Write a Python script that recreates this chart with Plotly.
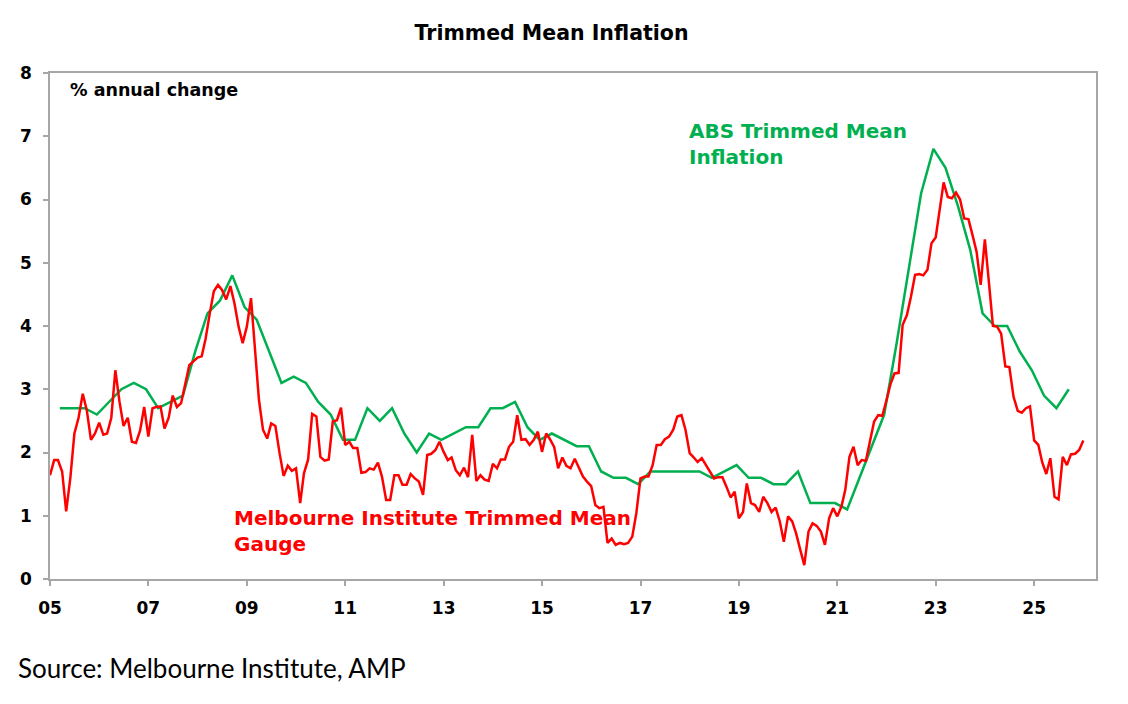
import pandas as pd
import plotly.graph_objects as go

# Melbourne Institute trimmed mean gauge, monthly, Jan 2005 - Jan 2026 (% y/y)
mi_gauge = [
    1.64, 1.88, 1.88, 1.70, 1.07, 1.60, 2.30, 2.55, 2.93, 2.67, 2.20, 2.30,  # 2005
    2.47, 2.28, 2.30, 2.55, 3.30, 2.80, 2.42, 2.55, 2.17, 2.15, 2.35, 2.72,  # 2006
    2.25, 2.70, 2.72, 2.73, 2.38, 2.55, 2.90, 2.72, 2.78, 3.05, 3.38, 3.44,  # 2007
    3.50, 3.52, 3.80, 4.20, 4.55, 4.65, 4.57, 4.42, 4.63, 4.36, 3.99, 3.73,  # 2008
    3.99, 4.44, 3.60, 2.83, 2.36, 2.22, 2.46, 2.42, 1.99, 1.63, 1.79, 1.71,  # 2009
    1.75, 1.20, 1.67, 1.89, 2.61, 2.57, 1.93, 1.87, 1.89, 2.49, 2.51, 2.71,  # 2010
    2.12, 2.17, 2.07, 2.07, 1.68, 1.69, 1.75, 1.73, 1.84, 1.62, 1.25, 1.25,  # 2011
    1.64, 1.64, 1.49, 1.49, 1.66, 1.59, 1.54, 1.33, 1.96, 1.98, 2.04, 2.17,  # 2012
    2.01, 1.88, 1.92, 1.72, 1.64, 1.76, 1.61, 2.28, 1.55, 1.64, 1.57, 1.55,  # 2013
    1.82, 1.75, 1.89, 1.89, 2.09, 2.17, 2.59, 2.20, 2.21, 2.12, 2.20, 2.33,  # 2014
    2.01, 2.30, 2.21, 2.09, 1.75, 1.92, 1.79, 1.75, 1.90, 1.77, 1.62, 1.54,  # 2015
    1.47, 1.17, 1.12, 1.14, 0.57, 0.64, 0.54, 0.57, 0.55, 0.57, 0.67, 1.04,  # 2016
    1.59, 1.62, 1.62, 1.80, 2.12, 2.12, 2.21, 2.25, 2.36, 2.57, 2.59, 2.36,  # 2017
    1.99, 1.92, 1.85, 1.91, 1.80, 1.70, 1.59, 1.61, 1.61, 1.46, 1.29, 1.38,  # 2018
    0.96, 1.06, 1.51, 1.20, 1.17, 1.06, 1.30, 1.20, 1.06, 1.13, 0.91, 0.59,  # 2019
    0.99, 0.91, 0.72, 0.46, 0.22, 0.75, 0.88, 0.84, 0.75, 0.54, 0.96, 1.12,  # 2020
    0.99, 1.15, 1.41, 1.93, 2.09, 1.80, 1.88, 1.87, 2.20, 2.49, 2.59, 2.58,  # 2021
    2.83, 3.09, 3.25, 3.26, 4.02, 4.17, 4.46, 4.81, 4.82, 4.80, 4.89, 5.31,  # 2022
    5.40, 5.89, 6.27, 6.04, 6.02, 6.11, 6.00, 5.70, 5.69, 5.44, 5.17, 4.65,  # 2023
    5.37, 4.67, 4.00, 3.99, 3.88, 3.36, 3.35, 2.88, 2.66, 2.63, 2.70, 2.73,  # 2024
    2.19, 2.12, 1.85, 1.66, 1.91, 1.30, 1.26, 1.93, 1.80, 1.97, 1.98, 2.04,  # 2025
    2.19,                                                                    # 2026
]

# ABS trimmed mean, quarterly, Mar 2005 - Sep 2025 (% y/y)
abs_trimmed_mean = [
    2.7, 2.7, 2.7, 2.6,  # 2005
    2.8, 3.0, 3.1, 3.0,  # 2006
    2.7, 2.8, 2.9, 3.6,  # 2007
    4.2, 4.4, 4.8, 4.3,  # 2008
    4.1, 3.6, 3.1, 3.2,  # 2009
    3.1, 2.8, 2.6, 2.2,  # 2010
    2.2, 2.7, 2.5, 2.7,  # 2011
    2.3, 2.0, 2.3, 2.2,  # 2012
    2.3, 2.4, 2.4, 2.7,  # 2013
    2.7, 2.8, 2.4, 2.2,  # 2014
    2.3, 2.2, 2.1, 2.1,  # 2015
    1.7, 1.6, 1.6, 1.5,  # 2016
    1.7, 1.7, 1.7, 1.7,  # 2017
    1.7, 1.6, 1.7, 1.8,  # 2018
    1.6, 1.6, 1.5, 1.5,  # 2019
    1.7, 1.2, 1.2, 1.2,  # 2020
    1.1, 1.6, 2.1, 2.6,  # 2021
    3.7, 4.9, 6.1, 6.8,  # 2022
    6.5, 5.9, 5.2, 4.2,  # 2023
    4.0, 4.0, 3.6, 3.3,  # 2024
    2.9, 2.7, 3.0,       # 2025
]

mi_dates = pd.date_range("2005-01-01", periods=len(mi_gauge), freq="MS")
abs_dates = pd.date_range("2005-03-01", periods=len(abs_trimmed_mean), freq="3MS") + pd.Timedelta(days=14)

tick_years = [2005, 2007, 2009, 2011, 2013, 2015, 2017, 2019, 2021, 2023, 2025]
tick_labels = ["05", "07", "09", "11", "13", "15", "17", "19", "21", "23", "25"]

GREEN = "#00B050"
RED = "#FF0000"
AXIS_GREY = "#A6A6A6"
FONT = "DejaVu Sans"

fig = go.Figure()
fig.add_trace(go.Scatter(x=abs_dates, y=abs_trimmed_mean, mode="lines",
                         line=dict(color=GREEN, width=2.5), name="ABS Trimmed Mean Inflation"))
fig.add_trace(go.Scatter(x=mi_dates, y=mi_gauge, mode="lines",
                         line=dict(color=RED, width=2.5), name="Melbourne Institute Trimmed Mean Gauge"))

axis_style = dict(showline=True, linecolor=AXIS_GREY, linewidth=1.5, mirror=True,
                  ticks="outside", ticklen=5, tickcolor=AXIS_GREY, tickwidth=1.5,
                  showgrid=False, zeroline=False, ticklabelstandoff=8,
                  tickfont=dict(family=FONT, size=17, color="black", weight="bold"))

# page has an 8px body margin, so the figure is a bit smaller than the window
fig.update_layout(
    width=1112, height=688,
    margin=dict(l=40, r=24, t=65, b=117),
    plot_bgcolor="white", paper_bgcolor="white",
    showlegend=False,
    title=dict(text="Trimmed Mean Inflation", x=0.4888, xref="container", xanchor="center",
               y=0.9637, yref="container", yanchor="middle",
               font=dict(family=FONT, size=20.5, color="black", weight="bold")),
    xaxis=dict(type="date", range=["2005-01-01", "2026-04-05"],
               tickvals=[f"{y}-01-01" for y in tick_years], ticktext=tick_labels, **axis_style),
    yaxis=dict(range=[0, 8], dtick=1, **axis_style),
)

labels = [
    ("% annual change", 0.017, 0.966, "black", 17.5),
    ("ABS Trimmed Mean<br>Inflation", 0.609, 0.86, GREEN, 20),
    ("Melbourne Institute Trimmed Mean<br>Gauge", 0.174, 0.094, RED, 20),
]
for text, px, py, col, sz in labels:
    fig.add_annotation(text=text, x=px, y=py, xref="paper", yref="paper",
                       xanchor="left", yanchor="middle", align="left", showarrow=False,
                       font=dict(family=FONT, size=sz, color=col, weight="bold"))

fig.add_annotation(text="Source: Melbourne Institute, AMP", x=-0.0329, y=-0.176,
                   xref="paper", yref="paper", xanchor="left", yanchor="middle",
                   showarrow=False, font=dict(family="Lato", size=26, color="black"))

fig.write_html("out.html")
